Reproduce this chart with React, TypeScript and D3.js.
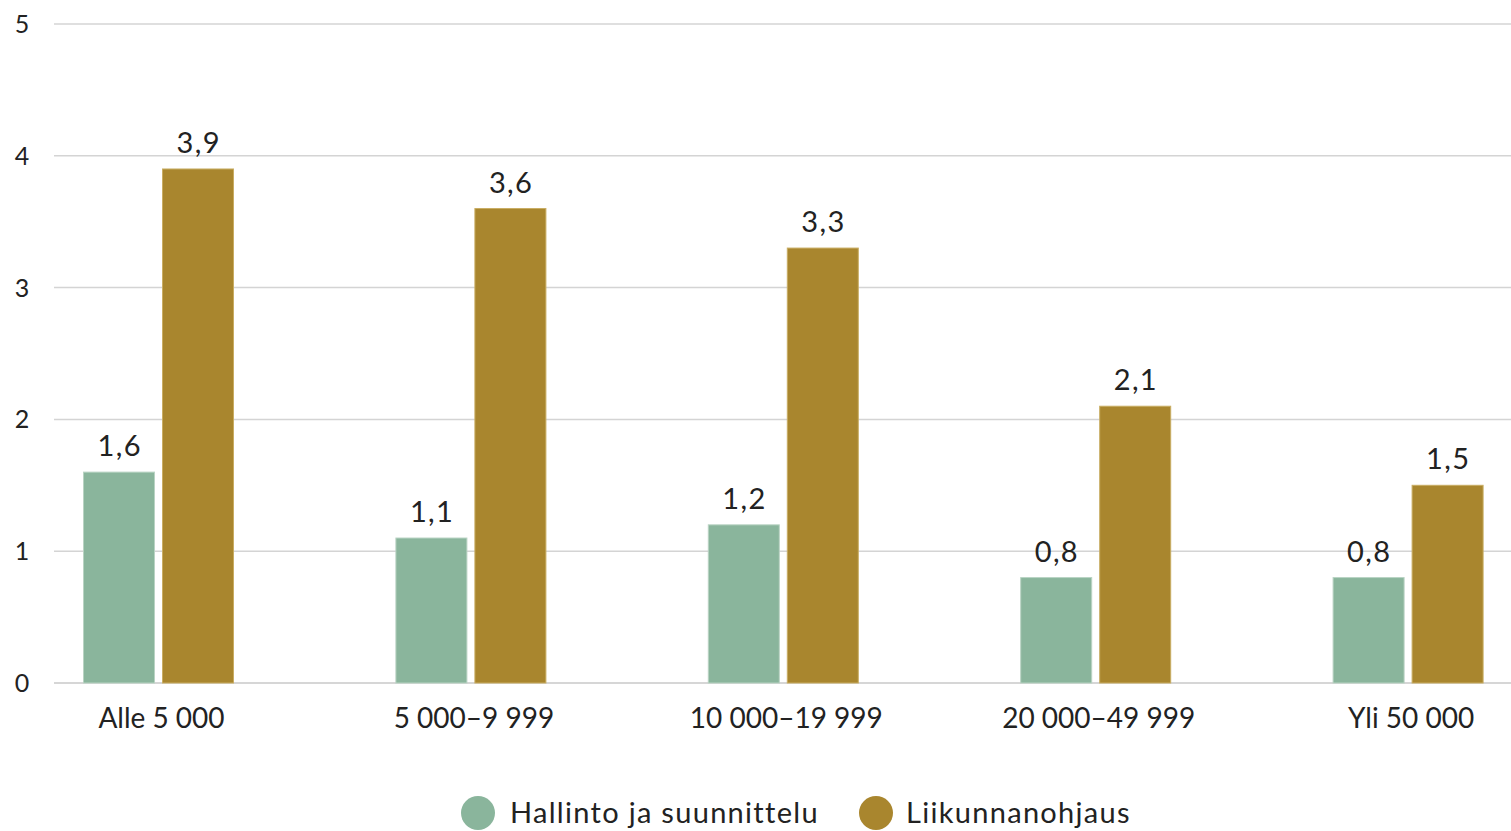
import React from "react";
import * as d3 from "d3";

const categories = ["Alle 5 000", "5 000–9 999", "10 000–19 999", "20 000–49 999", "Yli 50 000"];
const seriesNames = ["Hallinto ja suunnittelu", "Liikunnanohjaus"];
const hallinto = [1.6, 1.1, 1.2, 0.8, 0.8];
const liikunta = [3.9, 3.6, 3.3, 2.1, 1.5];
const yTicks = [0, 1, 2, 3, 4, 5];
const colors = ["#8ab59c", "#a9862e"];

const W = 1511;
const H = 831;
const FONT = "Lato, 'Open Sans', sans-serif";

export default function App() {
  const y = d3.scaleLinear().domain([0, 5]).range([683, 24]);
  const x0 = d3.scaleBand<string>().domain(categories).range([2.3, 1564.3]).paddingInner(0).paddingOuter(0);
  const x1 = d3.scaleBand<string>().domain(seriesNames).range([0, 150]).paddingInner(8 / 79).paddingOuter(0);
  const values = [hallinto, liikunta];
  const fmt = (v: number) => v.toFixed(1).replace(".", ",");

  return (
    <svg width={W} height={H} style={{ position: "absolute", left: 0, top: 0, background: "#fff" }} fontFamily={FONT}>
      {yTicks.map((t) => (
        <g key={t}>
          <line x1={54} x2={W} y1={y(t)} y2={y(t)} stroke={t === 0 ? "#c8c8c8" : "#d4d4d4"} strokeWidth={1.5} />
          <text x={22} y={y(t)} dy="0.36em" textAnchor="middle" fontSize={25} fill="#222">{t}</text>
        </g>
      ))}
      {categories.map((c, i) => {
        const cx = (x0(c) as number) + x0.bandwidth() / 2;
        const gx = cx - 75;
        return (
          <g key={c}>
            {seriesNames.map((s, j) => {
              const v = values[j][i];
              const bx = gx + (x1(s) as number);
              const bw = x1.bandwidth();
              return (
                <g key={s}>
                  <rect x={bx} y={y(v)} width={bw} height={y(0) - y(v)} fill={colors[j]} stroke={j === 0 ? "#b9d3c3" : "#c9ad63"} strokeWidth={1} />
                  <text x={bx + bw / 2 + 0.7} y={y(v) - 16} textAnchor="middle" fontSize={29} letterSpacing={1.4} fill="#222">{fmt(v)}</text>
                </g>
              );
            })}
            <text x={cx + 3} y={728} textAnchor="middle" fontSize={28} fill="#222">{c}</text>
          </g>
        );
      })}
      <g>
        <circle cx={478} cy={813} r={17} fill={colors[0]} />
        <text x={510} y={823} fontSize={29} letterSpacing={1.3} fill="#222">{seriesNames[0]}</text>
        <circle cx={876} cy={813} r={17} fill={colors[1]} />
        <text x={906} y={823} fontSize={29} letterSpacing={1.3} fill="#222">{seriesNames[1]}</text>
      </g>
    </svg>
  );
}
